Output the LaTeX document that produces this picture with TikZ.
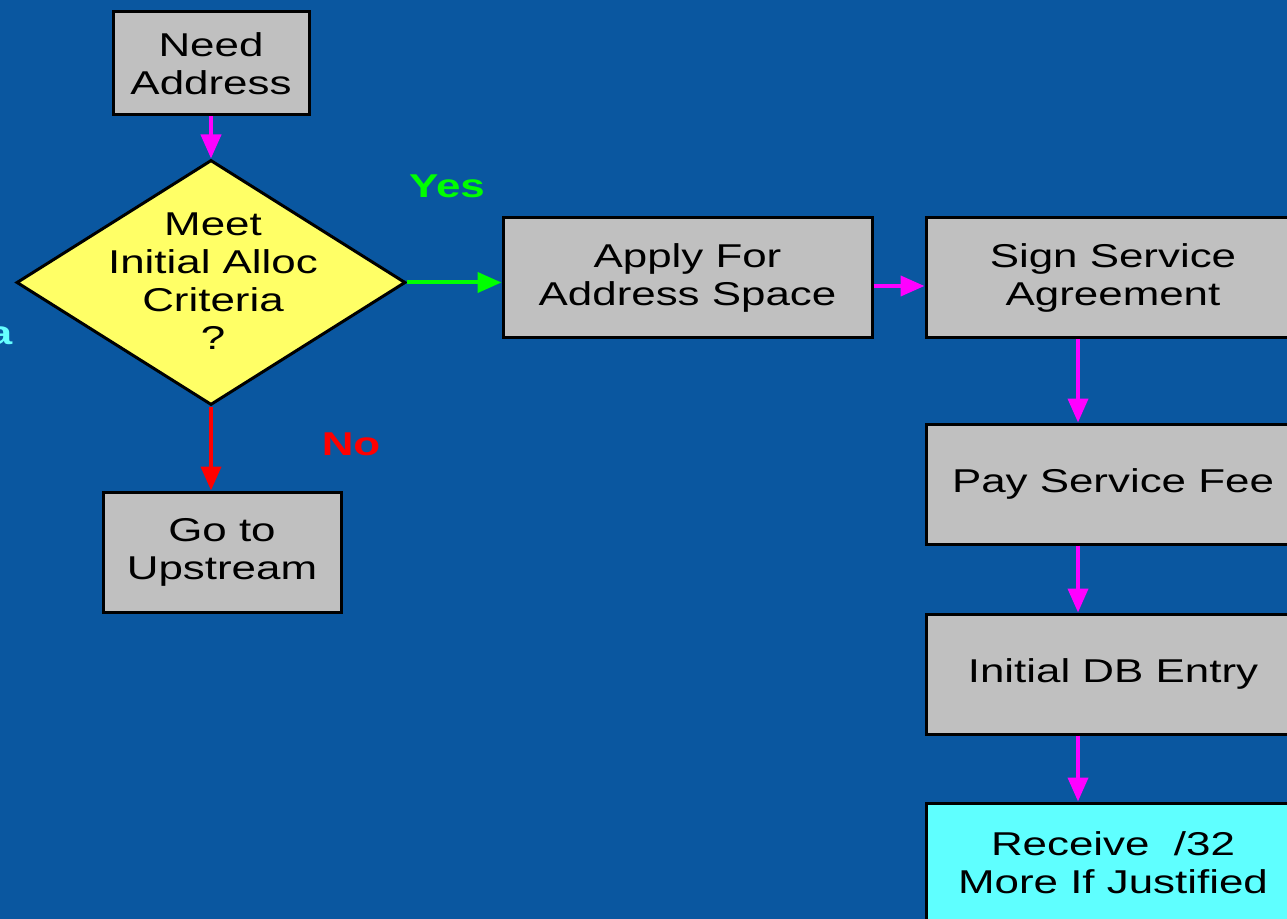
\documentclass[tikz,border=0pt]{standalone}
\usepackage{fontspec}
\setmainfont[FakeStretch=1.33]{Liberation Sans}
\usetikzlibrary{shapes.geometric,arrows.meta}
\definecolor{bg}{RGB}{10,87,160}
\definecolor{boxgray}{RGB}{192,192,192}
\definecolor{diayellow}{RGB}{255,255,102}
\definecolor{boxcyan}{RGB}{95,255,255}
\definecolor{labcyan}{RGB}{102,255,255}
\definecolor{mag}{RGB}{255,0,255}
\definecolor{grn}{RGB}{0,255,0}
\definecolor{rd}{RGB}{255,0,0}
\begin{document}
\begin{tikzpicture}[x=0.75pt,y=-0.75pt,
  box/.style={draw=black, line width=2.25pt, fill=boxgray, align=center, inner sep=0pt,
    font=\fontsize{24.75pt}{28.5pt}\selectfont},
  dia/.style={diamond, draw=black, line width=2.25pt, fill=diayellow, inner sep=0pt},
  conn/.style={line width=3pt, -{Triangle[length=18pt,width=15pt]}},
  lab/.style={font=\fontsize{24.75pt}{28.5pt}\selectfont\bfseries}
]
\fill[bg] (0,0) rectangle (1287,919);
\useasboundingbox (0,0) rectangle (1287,919);

\node[box, minimum width=147pt, minimum height=77.25pt] (need) at (211,63.5) {Need\\Address};
\node[dia, minimum width=291.75pt, minimum height=183.75pt] (dia) at (211,282.5) {};
\node[align=center, inner sep=0pt, font=\fontsize{24.75pt}{28.5pt}\selectfont] (diatext) at (213,281) {Meet\\Initial Alloc\\Criteria\\?};
\node[box, minimum width=276.75pt, minimum height=90pt] (apply) at (687.5,278) {Apply For\\Address Space};
\node[box, minimum width=280.5pt, minimum height=90pt] (sign) at (1113,278) {Sign Service\\Agreement};
\node[box, minimum width=280.5pt, minimum height=90pt] (pay) at (1113,484) {Pay Service Fee};
\node[box, minimum width=280.5pt, minimum height=90pt] (db) at (1113,674) {Initial DB Entry};
\node[box, fill=boxcyan, minimum width=280.5pt, minimum height=90pt] (recv) at (1113,863) {Receive~~/32\\More If Justified};
\node[box, minimum width=178.5pt, minimum height=90pt] (up) at (222,552) {Go to\\Upstream};

\node[lab, text=grn] (yes) at (447,186) {Yes};
\node[lab, text=rd] (no) at (351,444) {No};
\node[lab, text=labcyan] (acut) at (0,336) {a};

\draw[conn, mag] (need.south) -- (dia.north);
\draw[conn, grn] (dia.east) -- (dia.east -| apply.west);
\draw[conn, mag] ([yshift=-6pt]apply.east) -- ([yshift=-6pt]sign.west);
\draw[conn, mag] ([xshift=-26.25pt]sign.south) -- ([xshift=-26.25pt]pay.north);
\draw[conn, mag] ([xshift=-26.25pt]pay.south) -- ([xshift=-26.25pt]db.north);
\draw[conn, mag] ([xshift=-26.25pt]db.south) -- ([xshift=-26.25pt]recv.north);
\draw[conn, rd] (dia.south) -- (dia.south |- up.north);
\end{tikzpicture}
\end{document}
